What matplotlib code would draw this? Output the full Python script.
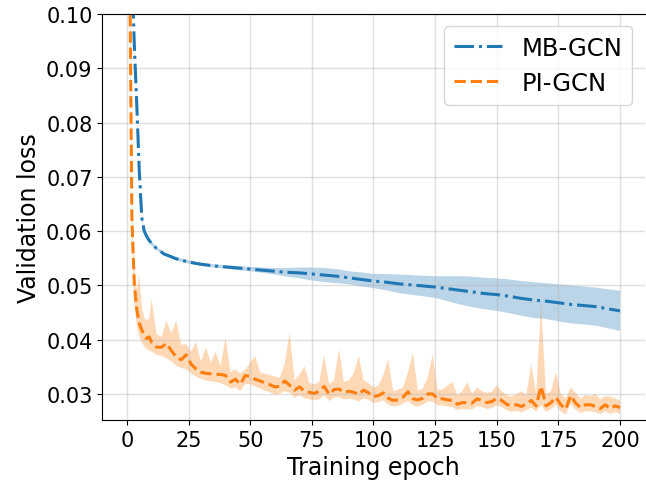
import numpy as np
import matplotlib
matplotlib.use("Agg")
import matplotlib.pyplot as plt

# MB-GCN: mean validation loss and spread
mb_epoch = [0, 1, 2, 3, 4, 5, 6, 7, 8, 9, 10, 12, 15, 20, 25, 30, 35, 40, 45, 50,
            55, 60, 65, 70, 75, 80, 85, 90, 95, 100, 105, 110, 115, 120, 125, 130,
            135, 140, 145, 150, 155, 160, 165, 170, 175, 180, 185, 190, 195, 200]
mb_mean = [0.30, 0.16, 0.108, 0.094, 0.083, 0.071, 0.0625, 0.0600, 0.0590, 0.0583,
           0.0577, 0.0568, 0.0558, 0.0549, 0.0543, 0.0539, 0.0536, 0.0534, 0.0532,
           0.0530, 0.0528, 0.0526, 0.0524, 0.0523, 0.0521, 0.0519, 0.0517, 0.0514,
           0.0511, 0.0508, 0.0506, 0.0503, 0.0501, 0.0499, 0.0497, 0.0494, 0.0491,
           0.0488, 0.0485, 0.0483, 0.0480, 0.0476, 0.0473, 0.0471, 0.0468, 0.0465,
           0.0463, 0.0461, 0.0457, 0.0453]
mb_spread = [0.004, 0.002, 0.0006, 0.0005, 0.0004, 0.0004, 0.0004, 0.0004, 0.0004,
             0.0004, 0.0004, 0.0003, 0.0003, 0.0003, 0.0003, 0.0003, 0.0003, 0.0003,
             0.0004, 0.0004, 0.0005, 0.0006, 0.0008, 0.0010, 0.0012, 0.0013, 0.0013,
             0.0012, 0.0013, 0.0013, 0.0015, 0.0017, 0.0018, 0.0019, 0.0020, 0.0023,
             0.0026, 0.0028, 0.0029, 0.0030, 0.0031, 0.0032, 0.0033, 0.0033, 0.0034,
             0.0035, 0.0035, 0.0035, 0.0036, 0.0037]

# PI-GCN: mean validation loss and band edges
pi_epoch = list(range(0, 11)) + list(range(12, 201, 2))
pi_mean = [0.30, 0.115, 0.062, 0.050, 0.0455, 0.0430, 0.0418, 0.0407, 0.0402, 0.0405,
           0.0395, 0.0386, 0.0386, 0.0393, 0.0380, 0.0368, 0.0363, 0.0372, 0.0355,
           0.0346, 0.0340, 0.0338, 0.0337, 0.0336, 0.0336, 0.0334, 0.0322, 0.0327,
           0.0318, 0.0334, 0.0332, 0.0327, 0.0324, 0.0320, 0.0317, 0.0313, 0.0314,
           0.0324, 0.0316, 0.0307, 0.0313, 0.0305, 0.0303, 0.0301, 0.0305, 0.0314,
           0.0299, 0.0308, 0.0309, 0.0303, 0.0305, 0.0303, 0.0299, 0.0307, 0.0302,
           0.0295, 0.0297, 0.0302, 0.0292, 0.0288, 0.0289, 0.0294, 0.0304, 0.0291,
           0.0289, 0.0292, 0.0300, 0.0300, 0.0291, 0.0291, 0.0289, 0.0288, 0.0281,
           0.0284, 0.0284, 0.0283, 0.0291, 0.0288, 0.0284, 0.0286, 0.0292, 0.0288,
           0.0281, 0.0278, 0.0280, 0.0277, 0.0281, 0.0288, 0.0278, 0.0314, 0.0278,
           0.0284, 0.0294, 0.0280, 0.0272, 0.0297, 0.0283, 0.0275, 0.0280, 0.0280,
           0.0277, 0.0273, 0.0280, 0.0273, 0.0278, 0.0275]
pi_upper = [0.32, 0.125, 0.066, 0.053, 0.049, 0.0519, 0.046, 0.044, 0.0435, 0.0440,
            0.0475, 0.041, 0.0405, 0.0435, 0.0412, 0.0435, 0.0390, 0.0392, 0.0378,
            0.0395, 0.0360, 0.0386, 0.0358, 0.0377, 0.0352, 0.0404, 0.0340, 0.0345,
            0.0338, 0.0345, 0.0358, 0.0370, 0.0340, 0.0337, 0.0335, 0.0332, 0.0330,
            0.0356, 0.0414, 0.0325, 0.0336, 0.0351, 0.0320, 0.0318, 0.0322, 0.0371,
            0.0318, 0.0325, 0.0383, 0.0322, 0.0325, 0.0338, 0.0370, 0.0325, 0.0320,
            0.0312, 0.0315, 0.0335, 0.0364, 0.0305, 0.0308, 0.0312, 0.0340, 0.0376,
            0.0306, 0.0310, 0.0330, 0.0373, 0.0308, 0.0308, 0.0315, 0.0322, 0.0298,
            0.0305, 0.0322, 0.0300, 0.0312, 0.0305, 0.0302, 0.0304, 0.0316, 0.0305,
            0.0298, 0.0295, 0.0300, 0.0305, 0.0298, 0.0355, 0.0300, 0.0466, 0.0300,
            0.0305, 0.0340, 0.0300, 0.0292, 0.0312, 0.0302, 0.0292, 0.0298, 0.0296,
            0.0300, 0.0290, 0.0296, 0.0295, 0.0292, 0.0288]
pi_lower = [0.28, 0.105, 0.058, 0.047, 0.0425, 0.0405, 0.0395, 0.0388, 0.0383, 0.0380,
            0.0378, 0.0372, 0.0370, 0.0366, 0.0360, 0.0352, 0.0348, 0.0345, 0.0338,
            0.0332, 0.0328, 0.0325, 0.0323, 0.0322, 0.0320, 0.0316, 0.0310, 0.0312,
            0.0306, 0.0318, 0.0318, 0.0314, 0.0310, 0.0306, 0.0303, 0.0299, 0.0300,
            0.0305, 0.0302, 0.0293, 0.0298, 0.0292, 0.0290, 0.0288, 0.0290, 0.0298,
            0.0287, 0.0293, 0.0294, 0.0290, 0.0291, 0.0290, 0.0286, 0.0292, 0.0289,
            0.0283, 0.0285, 0.0288, 0.0280, 0.0277, 0.0278, 0.0282, 0.0287, 0.0279,
            0.0277, 0.0280, 0.0286, 0.0286, 0.0279, 0.0279, 0.0277, 0.0276, 0.0270,
            0.0272, 0.0272, 0.0271, 0.0278, 0.0276, 0.0272, 0.0274, 0.0279, 0.0276,
            0.0270, 0.0267, 0.0269, 0.0266, 0.0270, 0.0275, 0.0267, 0.0280, 0.0267,
            0.0272, 0.0280, 0.0268, 0.0262, 0.0282, 0.0271, 0.0265, 0.0268, 0.0268,
            0.0266, 0.0263, 0.0268, 0.0263, 0.0266, 0.0264]

mb_mean = np.array(mb_mean)
mb_spread = np.array(mb_spread)

fig = plt.figure(figsize=(6.46, 4.85), dpi=100)
ax = fig.add_axes([0.1584, 0.132, 0.8395, 0.837])

ax.fill_between(mb_epoch, mb_mean - mb_spread, mb_mean + mb_spread,
                color="#1f77b4", alpha=0.3, lw=0)
ax.plot(mb_epoch, mb_mean, color="#1f77b4", ls="-.", lw=2.2, label="MB-GCN")
ax.fill_between(pi_epoch, pi_lower, pi_upper, color="#ff7f0e", alpha=0.3, lw=0)
ax.plot(pi_epoch, pi_mean, color="#ff7f0e", ls="--", lw=2.2, label="PI-GCN")

ax.set_xlim(-10, 210)
ax.set_ylim(0.0252, 0.1)
ax.set_xticks([0, 25, 50, 75, 100, 125, 150, 175, 200])
ax.set_yticks([0.03, 0.04, 0.05, 0.06, 0.07, 0.08, 0.09, 0.10])
ax.set_yticklabels(["0.03", "0.04", "0.05", "0.06", "0.07", "0.08", "0.09", "0.10"])
ax.tick_params(labelsize=15)
ax.spines["right"].set_visible(False)
ax.grid(True, color="#b0b0b0", alpha=0.4, lw=1)
ax.set_xlabel("Training epoch", fontsize=17)
ax.set_ylabel("Validation loss", fontsize=17)
ax.legend(loc="upper right", fontsize=17.5, labelspacing=0.45,
          borderaxespad=0.5)

fig.savefig("out.png", dpi=100)
